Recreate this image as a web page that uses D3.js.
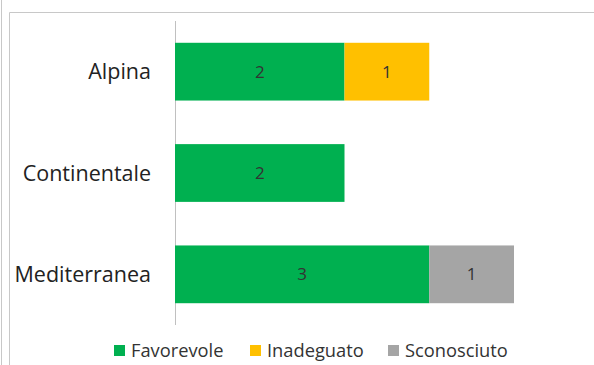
<!DOCTYPE html>
<html><head><meta charset="utf-8">
<script src="https://cdn.jsdelivr.net/npm/d3@7"></script>
<style>html,body{margin:0;padding:0;background:#fff;}svg{display:block;}</style>
</head><body>
<script>
const categories = ["Alpina", "Continentale", "Mediterranea"];
const seriesNames = ["Favorevole", "Inadeguato", "Sconosciuto"];
const favorevole = [2, 2, 3];
const inadeguato = [1, 0, 0];
const sconosciuto = [0, 0, 1];
const colors = ["#00B050", "#FFC000", "#A5A5A5"];

const W = 594, H = 365;
const svg = d3.select("body").append("svg").attr("width", W).attr("height", H);
const font = "'Open Sans', sans-serif";

// frame
svg.append("line").attr("x1", 1.5).attr("x2", 1.5).attr("y1", 0).attr("y2", H).attr("stroke", "#c8c8c8");
svg.append("path").attr("d", `M9.5,${H} V12.5 H${W}`).attr("fill", "none").attr("stroke", "#c8c8c8");

const table = categories.map((c, i) => ({cat: c, Favorevole: favorevole[i], Inadeguato: inadeguato[i], Sconosciuto: sconosciuto[i]}));
const stack = d3.stack().keys(seriesNames)(table);

const x = d3.scaleLinear().domain([0, 4]).range([175, 514]);
const y = d3.scaleBand().domain(categories).range([21, 325]).paddingInner(0.43).paddingOuter(0.215);

// axis line
svg.append("line").attr("x1", x(0) + 0.5).attr("x2", x(0) + 0.5).attr("y1", 21).attr("y2", 325).attr("stroke", "#c0c0c0");

const g = svg.append("g");
stack.forEach((s, si) => {
  s.forEach((d, i) => {
    const v = d[1] - d[0];
    if (v <= 0) return;
    g.append("rect").attr("x", x(d[0])).attr("y", y(categories[i]))
      .attr("width", x(d[1]) - x(d[0])).attr("height", y.bandwidth()).attr("fill", colors[si]);
    g.append("text").attr("x", (x(d[0]) + x(d[1])) / 2).attr("y", y(categories[i]) + y.bandwidth() / 2)
      .attr("dy", "0.35em").attr("text-anchor", "middle").attr("font-family", font).attr("font-size", 17)
      .attr("fill", "#333").text(v);
  });
});

// category labels
const yAxis = d3.axisLeft(y).tickSize(0).tickPadding(0);
const ya = svg.append("g").attr("transform", "translate(151,0)").call(yAxis);
ya.select(".domain").remove();
ya.selectAll("text").attr("font-family", font).attr("font-size", 21.5).attr("fill", "#222").attr("dy", "0.35em");

// legend
const legendX = [114, 250, 388];
seriesNames.forEach((n, i) => {
  svg.append("rect").attr("x", legendX[i]).attr("y", 345).attr("width", 11).attr("height", 11).attr("fill", colors[i]);
  svg.append("text").attr("x", legendX[i] + 17).attr("y", 350.5).attr("dy", "0.35em")
    .attr("font-family", font).attr("font-size", 18.3).attr("fill", "#333").text(n);
});
</script>
</body></html>
